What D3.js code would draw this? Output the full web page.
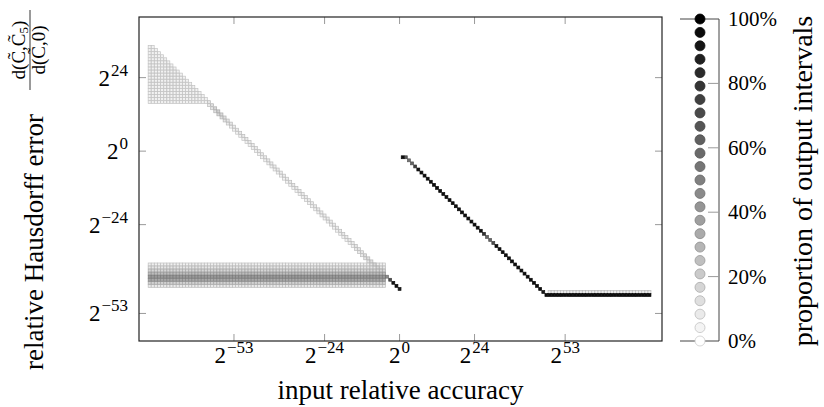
<!DOCTYPE html>
<html>
<head>
<meta charset="utf-8">
<script src="https://cdn.jsdelivr.net/npm/d3@7/dist/d3.min.js"></script>
<style>
	body { margin: 0; background: #fff; }
	svg { display: block; font-family: "Liberation Serif", "DejaVu Serif", serif; }
</style>
</head>
<body>
<svg id="chart" width="824" height="407"></svg>
<script>

// axis ticks (powers of two)
var xTickExps = [-53, -24, 0, 24, 53];
var yTickExps = [24, 0, -24, -53];
var legendTicks = [0, 20, 40, 60, 80, 100];
var legendSteps = 25;

// upper-left wedge: each column filled from wedgeBottom up to wedgeTop
var wedgeX   = [-80,-79,-78,-77,-76,-75,-74,-73,-72,-71,-70,-69,-68,-67,-66,-65,-64,-63,-62];
var wedgeTop = [ 34, 34, 33, 32, 31, 30, 29, 28, 27, 26, 25, 24, 23, 22, 21, 20, 19, 18, 17];
var wedgeBottom = 16;
var wedgeP = 0.05;

// light diagonal going down from the wedge (two cells per column)
var diagX = [-61,-60,-59,-58,-57,-56,-55,-54,-53,-52,-51,-50,-49,-48,-47,-46,-45,-44,-43,-42,-41,-40,-39,-38,-37,-36,-35,-34,-33,-32,-31,-30,-29,-28,-27,-26,-25,-24,-23,-22,-21,-20,-19,-18,-17,-16,-15,-14,-13,-12,-11,-10,-9,-8,-7,-6,-5];
var diagY = [16,15,14,13,12,11,10,9,8,7,6,5,4,3,2,1,0,-1,-2,-3,-4,-5,-6,-7,-8,-9,-10,-11,-12,-13,-14,-15,-16,-17,-18,-19,-20,-21,-22,-23,-24,-25,-26,-27,-28,-29,-30,-31,-32,-33,-34,-35,-36,-37,-38,-39,-40];
var diagP = [0.1,0.12,0.15,0.18,0.15,0.12,0.1,0.1,0.08,0.08,0.08,0.08,0.08,0.08,0.08,0.08,0.08,0.08,0.08,0.08,0.08,0.08,0.08,0.08,0.08,0.08,0.08,0.08,0.08,0.08,0.08,0.08,0.08,0.08,0.08,0.08,0.08,0.08,0.08,0.08,0.08,0.08,0.08,0.08,0.08,0.08,0.08,0.1,0.1,0.1,0.12,0.12,0.12,0.15,0.15,0.15,0.15];
var diagP2 = [0.08,0.1,0.12,0.15,0.12,0.1,0.08,0.05,0.05,0.05,0.05,0.05,0.05,0.05,0.05,0.05,0.05,0.05,0.05,0.05,0.05,0.05,0.05,0.05,0.05,0.05,0.05,0.05,0.05,0.05,0.05,0.05,0.05,0.05,0.05,0.05,0.05,0.05,0.05,0.05,0.05,0.05,0.05,0.05,0.05,0.05,0.05,0.08,0.08,0.08,0.1,0.1,0.1,0.1,0.1,0.1,0.1];

// horizontal band on the left
var bandFirstX = -80;
var bandLastX = -5;
var bandRowY = [-37, -38, -39, -40, -41, -42, -43, -44];
var bandRowP = [0.06, 0.1, 0.16, 0.26, 0.4, 0.34, 0.18, 0.08];

// end of the band near 2^0
var bandEndX = [-4, -3, -2, -1, 0];
var bandEndY = [-41, -42, -43, -44, -45];
var bandEndP = [0.45, 0.7, 0.92, 0.95, 0.9];

// steep diagonal on the right
var rightX = [1,2,3,4,5,6,7,8,9,10,11,12,13,14,15,16,17,18,19,20,21,22,23,24,25,26,27,28,29,30,31,32,33,34,35,36,37,38,39,40,41,42,43,44,45,46,47];
var rightY = [-2,-2,-3,-4,-5,-6,-7,-8,-9,-10,-11,-12,-13,-14,-15,-16,-17,-18,-19,-20,-21,-22,-23,-24,-25,-26,-27,-28,-29,-30,-31,-32,-33,-34,-35,-36,-37,-38,-39,-40,-41,-42,-43,-44,-45,-46,-47];
var rightP = [0.95,0.65,0.55,0.6,0.75,0.95,0.95,0.95,0.95,0.95,0.95,0.95,0.95,0.95,0.95,0.95,0.95,0.95,0.95,0.95,0.95,0.95,0.95,0.95,0.95,0.95,0.8,0.6,0.6,0.7,0.95,0.95,0.95,0.95,0.95,0.95,0.95,0.95,0.95,0.95,0.95,0.95,0.95,0.95,0.95,0.9,0.95];

// flat floor on the right
var floorFirstX = 48;
var floorLastX = 80;
var floorRowY = [-46, -47];
var floorRowP = [0.08, 0.95];

var svg = d3.select("#chart");
var margin = {left: 139, right: 662, top: 17, bottom: 341};

var x = d3.scaleLinear().domain([-83.4, 84]).range([margin.left, margin.right]);
var y = d3.scaleLinear().domain([43.8, -62]).range([margin.top, margin.bottom]);
var shade = d3.scaleLinear().domain([0, 1]).range(["#ffffff", "#000000"]);

// mark outline: 80% of the fill colour, 20% black
function edge(p){
	var c = d3.rgb(shade(p));
	return d3.rgb(c.r * 0.8, c.g * 0.8, c.b * 0.8);
}

// collect cells
var cells = [];
wedgeX.forEach(function(cx, i){
	for(var cy = wedgeBottom; cy <= wedgeTop[i]; cy++) cells.push({x: cx, y: cy, p: wedgeP});
});
diagX.forEach(function(cx, i){
	cells.push({x: cx, y: diagY[i], p: diagP[i]});
	cells.push({x: cx, y: diagY[i] - 1, p: diagP2[i]});
});
for(var bx = bandFirstX; bx <= bandLastX; bx++){
	bandRowY.forEach(function(ry, j){ cells.push({x: bx, y: ry, p: bandRowP[j]}); });
}
bandEndX.forEach(function(cx, i){ cells.push({x: cx, y: bandEndY[i], p: bandEndP[i]}); });
rightX.forEach(function(cx, i){ cells.push({x: cx, y: rightY[i], p: rightP[i]}); });
for(var fx = floorFirstX; fx <= floorLastX; fx++){
	floorRowY.forEach(function(ry, j){ cells.push({x: fx, y: ry, p: floorRowP[j]}); });
}
cells.sort(function(a, b){ return a.p - b.p; });

var cell = 2.9;
svg.append("g").selectAll("rect")
	.data(cells)
	.enter()
	.append("rect")
	.attr("x", function(d){ return x(d.x) - cell / 2; })
	.attr("y", function(d){ return y(d.y) - cell / 2; })
	.attr("width", cell)
	.attr("height", cell)
	.style("fill", function(d){ return shade(d.p); })
	.style("stroke", function(d){ return edge(d.p); })
	.style("stroke-width", 0.7);

// power-of-two label
function pow2(sel, e){
	sel.text("2");
	sel.append("tspan")
		.attr("dy", -10)
		.attr("dx", 1)
		.style("font-size", "17px")
		.text(e < 0 ? "\u2212" + (-e) : e);
}

// frame and ticks
var tickLen = 7;
var axes = svg.append("g").style("stroke", "#9a9a9a").style("stroke-width", 1);
xTickExps.forEach(function(e){
	axes.append("line").attr("x1", x(e)).attr("x2", x(e)).attr("y1", margin.bottom).attr("y2", margin.bottom - tickLen);
	axes.append("line").attr("x1", x(e)).attr("x2", x(e)).attr("y1", margin.top).attr("y2", margin.top + tickLen);
});
yTickExps.forEach(function(e){
	axes.append("line").attr("x1", margin.left).attr("x2", margin.left + tickLen).attr("y1", y(e)).attr("y2", y(e));
	axes.append("line").attr("x1", margin.right).attr("x2", margin.right - tickLen).attr("y1", y(e)).attr("y2", y(e));
});
svg.append("rect")
	.attr("x", margin.left).attr("y", margin.top)
	.attr("width", margin.right - margin.left)
	.attr("height", margin.bottom - margin.top)
	.style("fill", "none").style("stroke", "#222").style("stroke-width", 1.2);

xTickExps.forEach(function(e){
	svg.append("text").attr("x", x(e)).attr("y", 363)
		.attr("text-anchor", "middle").style("font-size", "23px")
		.call(pow2, e);
});
yTickExps.forEach(function(e){
	svg.append("text").attr("x", 128).attr("y", y(e) + 8)
		.attr("text-anchor", "end").style("font-size", "23px")
		.call(pow2, e);
});

svg.append("text").attr("x", (margin.left + margin.right) / 2).attr("y", 399)
	.attr("text-anchor", "middle").style("font-size", "27px")
	.text("input relative accuracy");

// y label with the fraction
var yl = svg.append("g").attr("transform", "translate(43,370) rotate(-90)");
yl.append("text").attr("x", 0).attr("y", 0).style("font-size", "27px")
	.text("relative Hausdorff error");
var num = yl.append("text").attr("x", 320).attr("y", -18).attr("text-anchor", "middle").style("font-size", "19px");
num.append("tspan").text("d(C\u0303,C\u0303");
num.append("tspan").attr("dy", 3).style("font-size", "13px").text("5");
num.append("tspan").attr("dy", -3).text(")");
yl.append("line").attr("x1", 280).attr("x2", 360).attr("y1", -13).attr("y2", -13)
	.style("stroke", "#000").style("stroke-width", 0.8);
yl.append("text").attr("x", 320).attr("y", 2).attr("text-anchor", "middle").style("font-size", "19px")
	.text("d(C\u0303,0)");

// colour legend
var ly = d3.scaleLinear().domain([0, 100]).range([341, 19]);
var lx = 700;
var legend = svg.append("g");
legend.append("line").attr("x1", 680).attr("x2", 719).attr("y1", ly(100)).attr("y2", ly(100)).style("stroke", "#444");
legend.append("line").attr("x1", 680).attr("x2", 719).attr("y1", ly(0)).attr("y2", ly(0)).style("stroke", "#444");
legend.append("line").attr("x1", 719).attr("x2", 719).attr("y1", ly(100)).attr("y2", ly(0)).style("stroke", "#444");
legendTicks.forEach(function(t){
	if(t > 0 && t < 100)
		legend.append("line").attr("x1", 708).attr("x2", 719).attr("y1", ly(t)).attr("y2", ly(t)).style("stroke", "#9a9a9a");
	legend.append("text").attr("x", 728).attr("y", ly(t) + 7).style("font-size", "21px").text(t + "%");
});
legend.selectAll("circle")
	.data(d3.range(legendSteps))
	.enter()
	.append("circle")
	.attr("cx", lx)
	.attr("cy", function(i){ return ly(100 * i / (legendSteps - 1)); })
	.attr("r", 5)
	.style("fill", function(i){ return shade(i / (legendSteps - 1)); })
	.style("stroke", function(i){ return edge(i / (legendSteps - 1)); })
	.style("stroke-width", 0.8);

svg.append("text").attr("transform", "translate(812,181) rotate(-90)")
	.attr("text-anchor", "middle").style("font-size", "28px")
	.text("proportion of output intervals");

</script>
</body>
</html>
